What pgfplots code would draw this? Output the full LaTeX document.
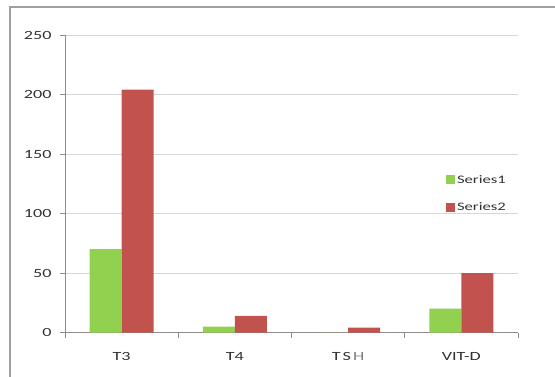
\documentclass[border=0pt]{standalone}
\usepackage{pgfplots}
\pgfplotsset{compat=1.18}
\usepackage{fontspec}
\setmainfont{Carlito}
\newfontfamily\stretchf[FakeStretch=1.45]{Carlito}
\definecolor{sgreen}{RGB}{146,208,80}
\definecolor{sred}{RGB}{194,82,78}
\definecolor{gridc}{RGB}{215,215,215}
\definecolor{axc}{RGB}{140,140,140}
\definecolor{txt}{RGB}{50,50,50}
\begin{document}
\begin{tikzpicture}[x=1pt,y=1pt]
\path[use as bounding box] (-65,-43.5) rectangle (490,332.5);
\clip (-65,-43.5) rectangle (490,332.5);
\begin{axis}[
  scale only axis, width=453pt, height=297.5pt,
  ybar=0pt, bar width=32pt,
  xmin=-0.5, xmax=3.5, ymin=0, ymax=250,
  xtick={0,1,2,3}, xticklabels={T3,T4,T\,S\,{\color{gray}H},VIT-D},
  minor xtick={-0.5,0.5,1.5,2.5,3.5},
  ytick={0,50,100,150,200,250},
  axis x line*=bottom, axis y line*=left,
  axis line style={axc, line width=0.8pt},
  tick align=outside,
  major x tick style={draw=none},
  minor x tick style={axc, line width=0.8pt},
  minor tick length=5pt,
  major y tick style={axc, line width=0.8pt},
  major tick length=5pt,
  ymajorgrids, grid style={gridc, line width=0.8pt},
  /pgf/number format/assume math mode=true,
  tick label style={font=\fontsize{12.5}{14}\stretchf, text=txt},
  xticklabel style={yshift=-11pt},
  yticklabel style={xshift=-5pt},
  legend style={at={(0.834,0.467)}, anchor=west, draw=none, fill=none,
    font=\fontsize{11.5}{13}\stretchf, text=txt, row sep=14pt},
  legend cell align=left,
  legend image code/.code={\fill[#1] (0pt,-4.5pt) rectangle (9pt,4.5pt);},
]
\addplot[fill=sgreen, draw=none] coordinates {(0,70) (1,5) (2,0) (3,20)};
\addplot[fill=sred, draw=none] coordinates {(0,204) (1,14) (2,4) (3,50)};
\legend{Series1,Series2}
\end{axis}
\draw[color={rgb,255:red,160;green,160;blue,160}, line width=2pt] (-55,-60) -- (-55,325.5) -- (500,325.5);
\end{tikzpicture}
\end{document}
